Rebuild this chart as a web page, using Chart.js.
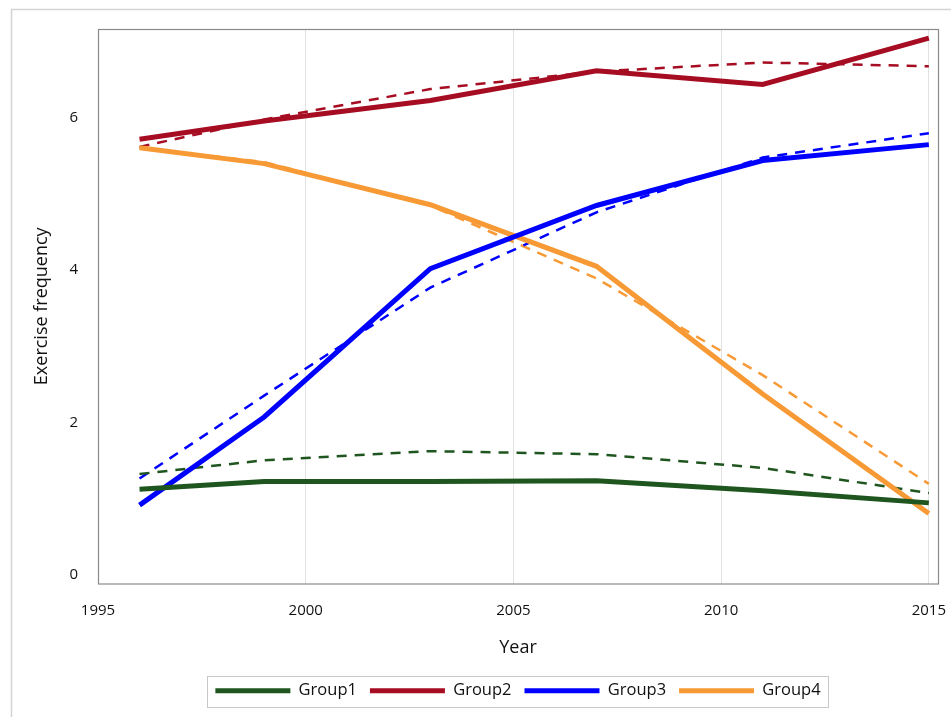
<!DOCTYPE html>
<html>
<head>
<meta charset="utf-8">
<script src="https://cdn.jsdelivr.net/npm/chart.js@4.4.1/dist/chart.umd.min.js"></script>
<style>
  html, body { margin: 0; padding: 0; background: #fff; }
  #wrap { width: 951px; height: 717px; position: relative; }
</style>
</head>
<body>
<div id="wrap"><canvas id="exerciseChart"></canvas></div>
<script>
// survey years and fitted / observed values
var years = [1996, 1999, 2003, 2007, 2011, 2015];
var groupNames = ['Group1', 'Group2', 'Group3', 'Group4'];
var groupColors = ['#1f561f', '#a60d22', '#0000ff', '#f79a36'];

var g1Obs = [1.12, 1.22, 1.22, 1.23, 1.10, 0.94];
var g2Obs = [5.72, 5.96, 6.23, 6.62, 6.44, 7.05];
var g3Obs = [0.91, 2.07, 4.02, 4.85, 5.44, 5.65];
var g4Obs = [5.61, 5.40, 4.86, 4.05, 2.37, 0.80];

var g1Fit = [1.32, 1.50, 1.62, 1.58, 1.40, 1.07];
var g2Fit = [5.62, 5.98, 6.38, 6.61, 6.73, 6.68];
var g3Fit = [1.26, 2.35, 3.77, 4.76, 5.48, 5.80];
var g4Fit = [5.61, 5.42, 4.85, 3.89, 2.62, 1.19];

var xTicks = [1995, 2000, 2005, 2010, 2015];
var yTicks = [0, 2, 4, 6];

var FONT = '"Open Sans", "DejaVu Sans", sans-serif';

function pts(vals) {
  return years.map(function (y, i) { return { x: y, y: vals[i] }; });
}

var observed = [g1Obs, g2Obs, g3Obs, g4Obs];
var fitted = [g1Fit, g2Fit, g3Fit, g4Fit];

var datasets = [];
// chart.js draws index 0 last, so the thick observed lines go first
groupNames.forEach(function (name, i) {
  datasets.push({
    label: name,
    data: pts(observed[i]),
    borderColor: groupColors[i],
    backgroundColor: groupColors[i],
    borderWidth: 5,
    pointRadius: 0,
    tension: 0
  });
});
groupNames.forEach(function (name, i) {
  datasets.push({
    label: name + ' fit',
    data: pts(fitted[i]),
    borderColor: groupColors[i],
    backgroundColor: groupColors[i],
    borderWidth: 2.5,
    borderDash: [10, 8],
    pointRadius: 0,
    tension: 0,
    isFit: true
  });
});

// plot frame, outer frame and legend box
const frames = {
  id: 'frames',
  beforeDraw(chart) {
    const ctx = chart.ctx;
    ctx.save();
    ctx.fillStyle = '#fff';
    ctx.fillRect(0, 0, chart.width, chart.height);
    ctx.strokeStyle = '#d4d4d4';
    ctx.lineWidth = 1.5;
    ctx.strokeRect(11.5, 9.5, chart.width + 10, chart.height + 10);
    ctx.restore();
  },
  afterDraw(chart) {
    const ctx = chart.ctx;
    const a = chart.chartArea;
    ctx.save();
    ctx.strokeStyle = '#8a8a8a';
    ctx.lineWidth = 1.2;
    ctx.strokeRect(a.left + 0.5, a.top + 0.5, a.right - a.left, a.bottom - a.top);

    const boxes = chart.legend.legendHitBoxes;
    if (boxes && boxes.length) {
      let l = Infinity, r = -Infinity, t = Infinity, b = -Infinity;
      boxes.forEach(function (h) {
        l = Math.min(l, h.left); r = Math.max(r, h.left + h.width);
        t = Math.min(t, h.top); b = Math.max(b, h.top + h.height);
      });
      ctx.strokeStyle = '#c8c8c8';
      ctx.lineWidth = 1;
      ctx.strokeRect(Math.round(l - 8) + 0.5, Math.round(t - 7) + 0.5, Math.round(r - l + 16), Math.round(b - t + 14));
    }
    ctx.restore();
  }
};

var ctx = document.getElementById('exerciseChart').getContext('2d');

var exerciseChart = new Chart(ctx, {
  type: 'line',
  data: { datasets: datasets },
  options: {
    responsive: true,
    maintainAspectRatio: false,
    animation: false,
    layout: { padding: { left: 0, top: 26, right: 13, bottom: 8 } },
    plugins: {
      tooltip: { enabled: false },
      legend: {
        position: 'bottom',
        fullSize: false,
        labels: {
          font: { family: FONT, size: 16.5 },
          color: '#111',
          boxWidth: 75,
          boxHeight: 5,
          padding: 13,
          filter: function (item, data) { return !data.datasets[item.datasetIndex].isFit; },
          generateLabels: function (chart) {
            return chart.data.datasets.map(function (ds, i) {
              return {
                text: ds.label,
                fillStyle: ds.borderColor,
                strokeStyle: ds.borderColor,
                lineWidth: 0,
                hidden: false,
                datasetIndex: i,
                fontColor: '#111'
              };
            });
          }
        }
      }
    },
    scales: {
      x: {
        type: 'linear',
        min: 1995,
        max: 2015.22,
        afterBuildTicks: function (axis) {
          axis.ticks = xTicks.map(function (v) { return { value: v }; });
        },
        afterFit: function (axis) {
          axis.height = 86;
          axis.paddingLeft = 0;
          axis.paddingRight = 0;
        },
        ticks: {
          font: { family: FONT, size: 15 },
          color: '#111',
          padding: 18,
          maxRotation: 0,
          callback: function (v) { return String(v); }
        },
        grid: { color: '#e2e2e2', lineWidth: 1, drawTicks: false },
        border: { display: false },
        title: {
          display: true,
          text: 'Year',
          font: { family: FONT, size: 18 },
          color: '#111',
          padding: { top: 4, bottom: 11 }
        }
      },
      y: {
        min: -0.12,
        max: 7.17,
        afterBuildTicks: function (axis) {
          axis.ticks = yTicks.map(function (v) { return { value: v }; });
        },
        afterFit: function (axis) { axis.width = 98; },
        ticks: {
          font: { family: FONT, size: 15 },
          color: '#111',
          padding: 20
        },
        grid: { display: false, drawTicks: false },
        border: { display: false },
        title: {
          display: true,
          text: 'Exercise frequency',
          font: { family: FONT, size: 18 },
          color: '#111',
          padding: { top: 31, bottom: 4 }
        }
      }
    }
  },
  plugins: [frames]
});
</script>
</body>
</html>
